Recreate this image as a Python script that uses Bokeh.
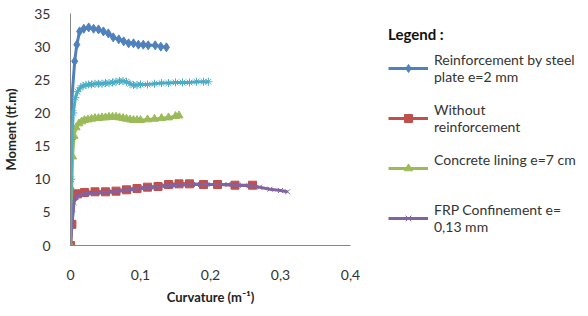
from bokeh.plotting import figure
from bokeh.layouts import row
from bokeh.models import Legend, LegendItem, FixedTicker
from bokeh.embed import file_html
from bokeh.resources import INLINE

# Reinforcement by steel plate e=2 mm
steel_x = [0, 0.0005, 0.001, 0.006, 0.009, 0.013, 0.019, 0.026, 0.033, 0.040, 0.047, 0.054,
           0.061, 0.069, 0.076, 0.083, 0.090, 0.097, 0.104, 0.111, 0.121, 0.129, 0.137]
steel_y = [0, 8.6, 20.8, 27.8, 30.3, 32.3, 32.7, 32.9, 32.7, 32.6, 32.3, 32.0,
           31.4, 31.1, 30.8, 30.5, 30.5, 30.3, 30.3, 30.2, 30.2, 30.0, 29.9]

# Without reinforcement
without_x = [0, 0.002, 0.005, 0.01, 0.02, 0.035, 0.05, 0.065, 0.08, 0.095, 0.11, 0.125,
             0.14, 0.155, 0.17, 0.19, 0.21, 0.235, 0.26]
without_y = [0, 3.2, 7.5, 7.8, 8.0, 8.1, 8.1, 8.2, 8.4, 8.6, 8.8, 8.9,
             9.2, 9.3, 9.3, 9.2, 9.2, 9.1, 9.1]

# Concrete lining e=7 cm
concrete_x = [0, 0.001, 0.003, 0.005, 0.008, 0.012, 0.016, 0.02, 0.025, 0.03, 0.035, 0.04,
              0.045, 0.05, 0.055, 0.06, 0.065, 0.07, 0.075, 0.08, 0.085, 0.09, 0.095, 0.1,
              0.11, 0.12, 0.13, 0.14, 0.15, 0.155]
concrete_y = [0, 5.4, 13.4, 16.5, 17.8, 18.4, 18.7, 18.9, 19.0, 19.1, 19.2, 19.2,
              19.3, 19.3, 19.4, 19.4, 19.4, 19.3, 19.2, 19.1, 19.0, 18.9, 18.9, 18.9,
              19.0, 19.1, 19.2, 19.3, 19.5, 19.6]

# FRP Confinement e=0,13 mm
frp_x = [0, 0.002, 0.005, 0.01, 0.02, 0.03, 0.045, 0.06, 0.075, 0.09, 0.105, 0.12, 0.135,
         0.15, 0.165, 0.18, 0.195, 0.21, 0.225, 0.24, 0.255, 0.27, 0.285, 0.3, 0.31]
frp_y = [0, 3.0, 6.5, 7.5, 7.8, 7.9, 8.0, 8.1, 8.3, 8.5, 8.7, 8.8, 9.0,
         9.1, 9.2, 9.2, 9.2, 9.2, 9.2, 9.1, 9.0, 8.8, 8.5, 8.3, 8.1]

# Reinforcement by corners L50x50x5
corners_x = [0, 0.001, 0.002, 0.004, 0.007, 0.01, 0.014, 0.018, 0.022, 0.026, 0.03, 0.035,
             0.04, 0.045, 0.05, 0.055, 0.06, 0.065, 0.07, 0.075, 0.08, 0.085, 0.09, 0.095,
             0.1, 0.11, 0.12, 0.13, 0.14, 0.15, 0.16, 0.17, 0.18, 0.19, 0.197]
corners_y = [0, 10, 16, 20, 22.3, 23.2, 23.8, 24.1, 24.2, 24.3, 24.3, 24.4,
             24.4, 24.4, 24.5, 24.5, 24.6, 24.7, 24.8, 24.8, 24.7, 24.4, 24.2, 24.2,
             24.3, 24.3, 24.4, 24.5, 24.5, 24.6, 24.6, 24.6, 24.7, 24.7, 24.7]

x_ticks = [0, 0.1, 0.2, 0.3, 0.4]
x_tick_labels = ["0", "0,1", "0,2", "0,3", "0,4"]
y_ticks = [0, 5, 10, 15, 20, 25, 30, 35]

FONT = "Lato"
H = 300

p = figure(frame_width=280, frame_height=232, x_range=(0, 0.4), y_range=(0, 35),
           output_backend="svg", toolbar_location=None,
           min_border_left=62, min_border_right=18, min_border_top=13, min_border_bottom=0)
p.outline_line_color = None
p.xgrid.grid_line_color = None
p.ygrid.grid_line_color = None

# legend-only panel
lp = figure(width=212, height=H, x_range=(0, 1), y_range=(0, 1),
            output_backend="svg", toolbar_location=None,
            x_axis_location=None, y_axis_location=None,
            min_border_left=8, min_border_right=0, min_border_top=0, min_border_bottom=0)
lp.outline_line_color = None
lp.xgrid.grid_line_color = None
lp.ygrid.grid_line_color = None

series = [
    ("Reinforcement by steel\nplate e=2 mm", steel_x, steel_y, "#4F81BD", "diamond", 9),
    ("Without\nreinforcement", without_x, without_y, "#C0504D", "square", 8),
    ("Concrete lining e=7 cm\n ", concrete_x, concrete_y, "#9BBB59", "triangle", 8),
    ("FRP Confinement e=\n0,13 mm", frp_x, frp_y, "#8064A2", "x", 7),
    ("Reinforcement by\ncorners L50x50x5", corners_x, corners_y, "#4BACC6", "asterisk", 8),
]

items = []
for label, xs, ys, color, marker, size in series:
    p.line(xs, ys, line_color=color, line_width=3)
    p.scatter(xs, ys, marker=marker, size=size, fill_color=color,
              line_color=color, line_width=1)
    # legend swatches: off-range points, so only the legend shows them
    l1 = lp.line(x=[-5, -4], y=[-5, -4], line_color=color, line_width=3)
    l2 = lp.scatter(x=[-5], y=[-5], marker=marker, size=size, fill_color=color,
                    line_color=color, line_width=1)
    items.append(LegendItem(label=label, renderers=[l1, l2]))

# invisible spacer entries so the legend box is tall enough for the last two-line label
for _ in range(2):
    spacer = lp.line(x=[-5, -4], y=[-5, -4], line_alpha=0)
    items.append(LegendItem(label=" ", renderers=[spacer]))

legend = Legend(items=items, location="top_left", title="Legend :",
                title_text_font=FONT, title_text_font_style="bold", title_text_font_size="15px",
                title_text_color="#111111",
                label_text_font=FONT, label_text_font_size="14px", label_text_color="#333333",
                border_line_color=None, background_fill_alpha=0,
                glyph_width=40, label_standoff=6, spacing=16, padding=0,
                margin=12, title_standoff=8, label_text_line_height=1.4,
                label_text_baseline="top")
lp.add_layout(legend, "center")

for ax in (p.xaxis, p.yaxis):
    ax.axis_line_color = "#868686"
    ax.major_tick_line_color = None
    ax.minor_tick_line_color = None
    ax.major_label_text_font = FONT
    ax.major_label_text_font_size = "14px"
    ax.major_label_text_color = "#333333"
    ax.axis_label_text_font = FONT
    ax.axis_label_text_font_style = "bold"
    ax.axis_label_text_font_size = "13px"
    ax.axis_label_text_color = "#222222"

p.xaxis.ticker = FixedTicker(ticks=x_ticks)
p.xaxis.major_label_overrides = {t: l for t, l in zip(x_ticks, x_tick_labels)}
p.yaxis.ticker = FixedTicker(ticks=y_ticks)
p.xaxis.major_label_standoff = 18
p.yaxis.major_label_standoff = 14
p.xaxis.axis_label = "Curvature (m\u207b\u00b9)"
p.yaxis.axis_label = "Moment (tf.m)"
p.xaxis.axis_label_standoff = 6
p.yaxis.axis_label_standoff = 12

layout = row(p, lp, spacing=0)
open("out.html", "w").write(file_html(layout, INLINE))
